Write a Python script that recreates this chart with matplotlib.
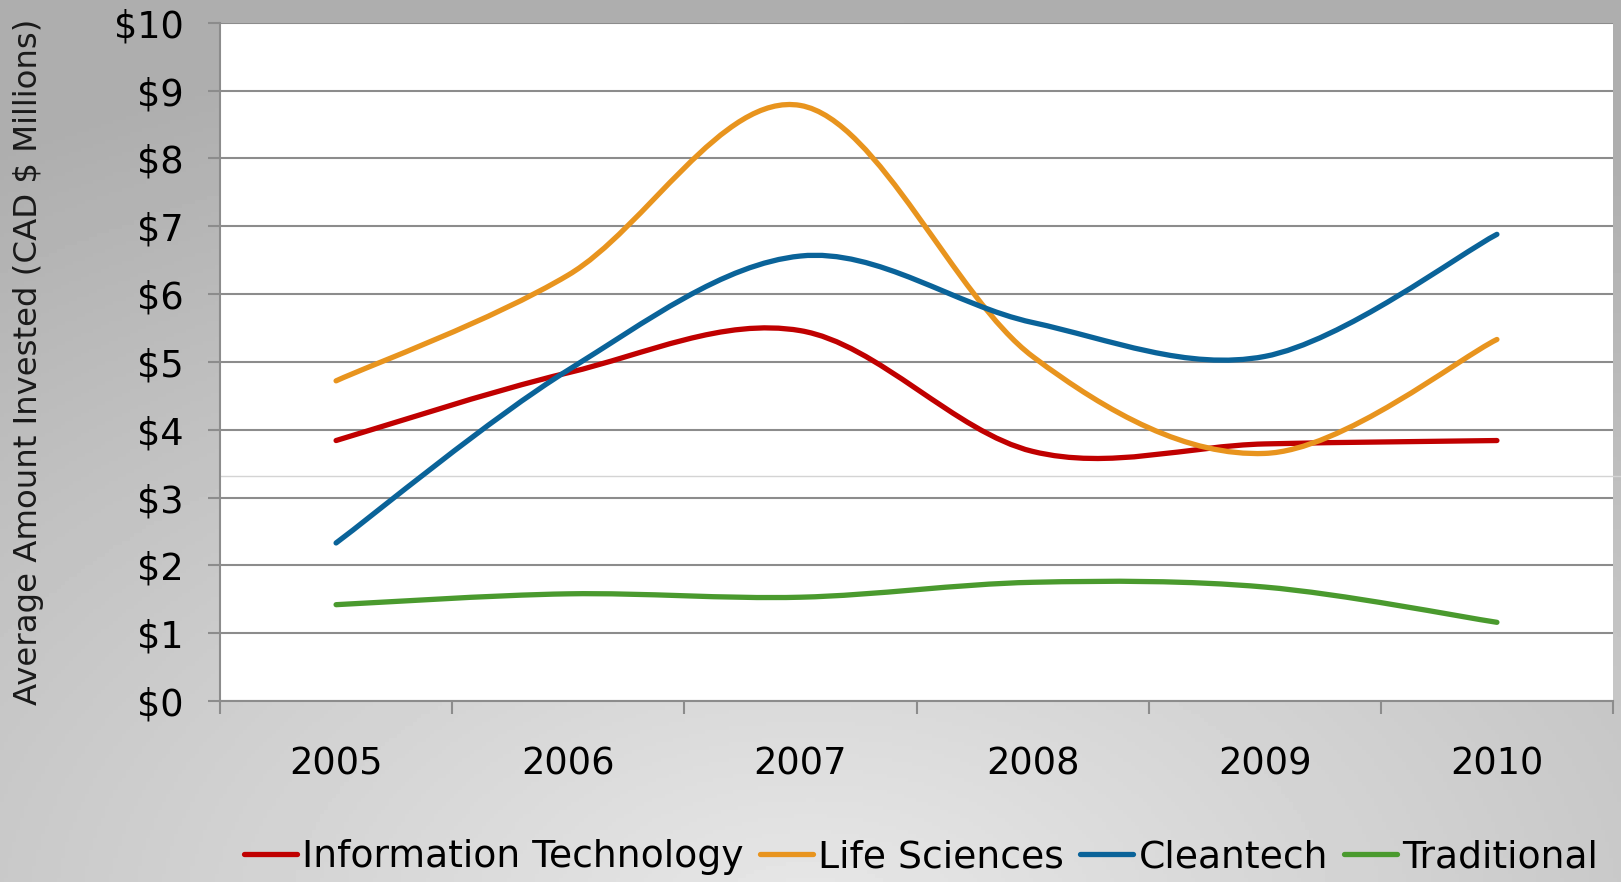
import numpy as np
import matplotlib
matplotlib.use("Agg")
from matplotlib import pyplot as plt
from matplotlib.path import Path
from matplotlib.patches import PathPatch
from matplotlib.lines import Line2D

years = ["2005", "2006", "2007", "2008", "2009", "2010"]
info_tech = [3.84, 4.84, 5.46, 3.68, 3.79, 3.84]
life_sci = [4.72, 6.28, 8.78, 5.08, 3.65, 5.33]
cleantech = [2.33, 4.88, 6.56, 5.58, 5.08, 6.88]
traditional = [1.42, 1.58, 1.53, 1.75, 1.68, 1.16]

series = [
    ("Information Technology", info_tech, "#c00000"),
    ("Life Sciences", life_sci, "#e8941e"),
    ("Cleantech", cleantech, "#0a6399"),
    ("Traditional", traditional, "#4a9a2e"),
]
y_ticks = list(range(0, 11))
y_labels = ["$%d" % v for v in y_ticks]


def smooth_path(xs, ys):
    """Excel style smoothed line as cubic bezier segments"""
    pts = np.column_stack([xs, ys]).astype(float)
    n = len(pts)
    verts = [pts[0]]
    codes = [Path.MOVETO]
    for i in range(n - 1):
        p0 = pts[i - 1] if i > 0 else pts[i]
        p1 = pts[i]
        p2 = pts[i + 1]
        p3 = pts[i + 2] if i + 2 < n else pts[i + 1]
        verts += [p1 + (p2 - p0) / 6, p2 - (p3 - p1) / 6, p2]
        codes += [Path.CURVE4] * 3
    return Path(verts, codes)


W, H = 1621, 882
fig = plt.figure(figsize=(W / 100, H / 100), dpi=100)

# gray radial gradient background
bg = fig.add_axes([0, 0, 1, 1], zorder=-10)
gx, gy = np.meshgrid(np.linspace(0, 1, 400), np.linspace(0, 1, 220))
r = np.sqrt(((gx - 0.5) * 1.1) ** 2 + ((gy - 1.05) * 1.0) ** 2)
shade = np.clip(0.91 - 0.22 * r, 0.68, 0.91)
bg.imshow(shade, cmap="gray", vmin=0, vmax=1, aspect="auto", extent=[0, 1, 0, 1], origin="upper")
bg.axis("off")

ax = fig.add_axes([220 / W, 1 - 701 / H, 1393 / W, (701 - 22.7) / H])
ax.set_facecolor("white")
x = np.arange(len(years))

for name, vals, color in series:
    patch = PathPatch(smooth_path(x, vals), facecolor="none", edgecolor=color,
                      lw=3.8, capstyle="round", joinstyle="round", zorder=3)
    ax.add_patch(patch)

ax.set_xlim(-0.5, len(years) - 0.5)
ax.set_ylim(0, 10)
ax.set_yticks(y_ticks)
ax.set_yticklabels(y_labels)
ax.set_xticks(x)
ax.set_xticklabels(years)
ax.set_xticks(np.arange(-0.5, len(years), 1.0), minor=True)
ax.tick_params(axis="x", which="major", length=0, pad=32, labelsize=26.5)
ax.tick_params(axis="x", which="minor", length=9, width=1.5, color="#8c8c8c", direction="out")
ax.tick_params(axis="y", length=9, width=1.5, color="#8c8c8c", pad=17, labelsize=26.5)
ax.grid(axis="y", color="#8c8c8c", lw=1.5, zorder=1)
ax.set_axisbelow(True)
for side in ["top", "right"]:
    ax.spines[side].set_visible(False)
for side in ["left", "bottom"]:
    ax.spines[side].set_color("#8c8c8c")
    ax.spines[side].set_linewidth(1.5)

# faint seam line from the source slide
ax.axhline(3.31, color="#d4d4d4", lw=1.0, zorder=2, clip_on=False, xmax=1.02)

ax.set_ylabel("Average Amount Invested (CAD $ Millions)", fontsize=23.3, color="#1a1a1a")
ax.yaxis.set_label_coords(-0.126, 0.5)

handles = [Line2D([0], [0], color=c, lw=3.8, solid_capstyle="round") for _, _, c in series]
fig.legend(handles, [s[0] for s in series], loc="center", bbox_to_anchor=(921 / W, 1 - 857 / H),
           ncol=4, frameon=False, handlelength=1.4, handletextpad=0.15, columnspacing=0.42,
           prop={"size": 27.2})

fig.savefig("out.png", dpi=100)
